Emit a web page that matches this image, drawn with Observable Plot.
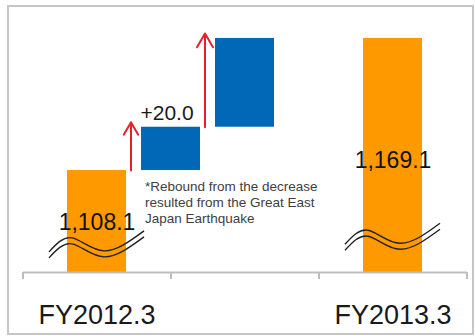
<!DOCTYPE html>
<html>
<head>
<meta charset="utf-8">
<script src="https://cdn.jsdelivr.net/npm/d3@7"></script>
<script src="https://cdn.jsdelivr.net/npm/@observablehq/plot@0.6"></script>
<style>
  html, body { margin: 0; padding: 0; background: #fff; }
  #wrap { position: relative; width: 475px; height: 336px; overflow: hidden; }
  #border { position: absolute; left: 7px; top: 5px; width: 467px; height: 330px; box-sizing: border-box; border: 2px solid #c6c6c6; }
  #chart { position: absolute; left: 0; top: 0; }
</style>
</head>
<body>
<div id="wrap"><div id="border"></div><div id="chart"></div></div>
<script>
// ---- data ----
const totalCats = ["FY2012.3", "FY2013.3"];
const totalValues = [1108.1, 1169.1];
const stepCats = ["Rebound", "Other"];
const stepValues = [20.0, 41.0];
const stepShown = [true, false];
const noteText = "*Rebound from the decrease\nresulted from the Great East\nJapan Earthquake";
const spacerSlots = ["edgeL", "mid", "edgeR"];
const axisFloor = 1061;       // hidden (broken) axis floor
const breakAt = [1074, 1077.5]; // where the axis-break symbol crosses each total bar
const labelAt = [1080.8, 1109.5]; // where each total label sits

// ---- derived tables ----
const slots = [spacerSlots[0], totalCats[0], stepCats[0], stepCats[1], spacerSlots[1], totalCats[1], spacerSlots[2]];
const tickSlots = [spacerSlots[0], stepCats[0], spacerSlots[1], spacerSlots[2]];
const totals = totalCats.map((cat, i) => ({cat, value: totalValues[i], brk: breakAt[i], ly: labelAt[i]}));
let run = totalValues[0];
const steps = stepCats.map((cat, i) => {
  const y1 = run; run += stepValues[i];
  return {cat, y1, y2: run, label: stepShown[i] ? d3.format("+.1f")(stepValues[i]) : ""};
});
const notes = [{cat: stepCats[0], y: steps[0].y1, text: noteText}];

// double wavy axis-break symbol
const waveSymbol = {
  draw(ctx) {
    const pts = [[-48, 10.5], [-25, -3.5], [7, 9.5], [47, -10.5]];
    for (const off of [-3, 3]) {
      d3.line().curve(d3.curveNatural).context(ctx)(pts.map(([a, b]) => [a, b + off]));
    }
  }
};

const chart = Plot.plot({
  width: 475,
  height: 336,
  marginTop: 20,
  marginBottom: 64,
  marginLeft: 23,
  marginRight: 8,
  style: {fontFamily: "'Liberation Sans', Arial, sans-serif", background: "transparent"},
  x: {domain: slots, range: [-14, 504], paddingInner: 0.2, paddingOuter: 0.1, label: null},
  y: {domain: [axisFloor, 1177.4], clamp: true, axis: null},
  marks: [
    Plot.barY(totals, {x: "cat", y1: axisFloor, y2: "value", fill: "#FF9900"}),
    Plot.barY(steps, {x: "cat", y1: "y1", y2: "y2", fill: "#0068B7"}),
    Plot.ruleY([axisFloor], {stroke: "#bdbdbd", strokeWidth: 2}),
    Plot.axisX({ticks: tickSlots, tickSize: 7, tickFormat: () => "", stroke: "#bdbdbd", strokeWidth: 2, label: null}),
    Plot.axisX({ticks: totalCats, tickSize: 0, tickPadding: 32, fontSize: 27, color: "#1a1a1a", label: null}),
    Plot.arrow(steps, {x1: "cat", x2: "cat", y1: "y1", y2: "y2", dx: -40, stroke: "#E8202A", strokeWidth: 2, headLength: 12, headAngle: 60, insetEnd: -5}),
    Plot.text(steps, {x: "cat", y: "y2", text: "label", lineAnchor: "bottom", dy: -7, dx: -4, fontSize: 21, fill: "#1a1a1a"}),
    Plot.text(notes, {x: "cat", y: "y", text: "text", textAnchor: "start", lineAnchor: "top", dx: -26, dy: 9, fontSize: 13.5, lineHeight: 1.185, fill: "#404040"}),
    Plot.text(totals, {x: "cat", y: "ly", text: d => d3.format(",.1f")(d.value), lineAnchor: "bottom", fontSize: 23, fill: "#111"}),
    Plot.dot(totals, {x: "cat", y: "brk", symbol: waveSymbol, r: 10, fill: "none", stroke: "#222", strokeWidth: 1.4})
  ]
});
document.getElementById("chart").appendChild(chart);
</script>
</body>
</html>
